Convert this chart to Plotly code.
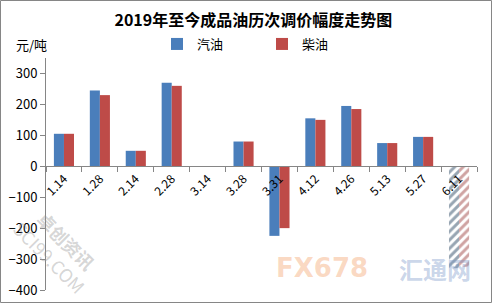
import plotly.graph_objects as go

categories = ["1.14", "1.28", "2.14", "2.28", "3.14", "3.28", "3.31", "4.12", "4.26", "5.13", "5.27", "6.11"]
gasoline = [105, 245, 50, 270, 0, 80, -225, 155, 195, 75, 95, None]
diesel = [105, 230, 50, 260, 0, 80, -200, 150, 185, 75, 95, None]
forecast_gasoline = [None] * 11 + [-330]
forecast_diesel = [None] * 11 + [-325]

BLUE = "#4A7EBB"
RED = "#BE4B48"
FONT = "Noto Sans CJK SC"

fig = go.Figure()
fig.add_trace(go.Bar(x=categories, y=gasoline, name="汽油", offsetgroup="0",
                     marker=dict(color=BLUE, line=dict(width=0))))
fig.add_trace(go.Bar(x=categories, y=diesel, name="柴油", offsetgroup="1",
                     marker=dict(color=RED, line=dict(width=0))))
fig.add_trace(go.Bar(x=categories, y=forecast_gasoline, showlegend=False, offsetgroup="0",
                     marker=dict(color="white", line=dict(width=0),
                                 pattern=dict(shape="/", fgcolor="#2F4B66", bgcolor="white", size=6, solidity=0.5))))
fig.add_trace(go.Bar(x=categories, y=forecast_diesel, showlegend=False, offsetgroup="1",
                     marker=dict(color="white", line=dict(width=0),
                                 pattern=dict(shape="/", fgcolor="#A04846", bgcolor="white", size=6, solidity=0.5))))

W, H = 492, 303
L, R, T, B = 46, 15, 58, 13
pw, ph = W - L - R, H - T - B

def px_x(p):
    return (p - L) / pw

def px_y(p):
    return (H - B - p) / ph

fig.update_layout(
    width=W, height=H,
    margin=dict(l=L, r=R, t=T, b=B, autoexpand=False),
    paper_bgcolor="white", plot_bgcolor="white",
    barmode="group", bargap=0.44, bargroupgap=0,
    font=dict(family=FONT, size=12, color="#000"),
    title=dict(text="<b>2019年至今成品油历次调价幅度走势图</b>", x=0.515, xanchor="center",
               y=1 - 20 / H, yanchor="middle", font=dict(size=16, family=FONT, color="#000")),
    legend=dict(orientation="h", xref="container", yref="container", x=157 / W, xanchor="left",
                y=1 - 44 / H, yanchor="middle",
                font=dict(size=13), itemwidth=30, entrywidth=60, bgcolor="rgba(0,0,0,0)",
                traceorder="normal"),
    showlegend=True,
)
fig.update_xaxes(
    type="category", anchor="free", position=400 / 750,
    showline=True, linecolor="#868686", linewidth=1,
    ticks="outside", tickson="boundaries", ticklen=5, tickcolor="#868686",
    tickangle=-45, tickfont=dict(size=12, family=FONT, color="#000"),
    showgrid=False, zeroline=False, automargin=False,
)
fig.update_yaxes(
    range=[-400, 350], tickvals=[-400, -300, -200, -100, 0, 100, 200, 300],
    showline=True, linecolor="#868686", linewidth=1,
    ticks="outside", ticklen=5, tickcolor="#868686",
    tickfont=dict(size=13, family=FONT, color="#000"),
    showgrid=False, zeroline=False, automargin=False,
)

# y-axis unit label
fig.add_annotation(text="元/吨", xref="paper", yref="paper", x=px_x(14), y=px_y(44),
                   xanchor="left", yanchor="middle", showarrow=False, font=dict(size=13, color="#000"))

# watermarks
fig.add_annotation(text="<b>FX678</b>", xref="paper", yref="paper", x=px_x(322), y=px_y(268),
                   xanchor="center", yanchor="middle", showarrow=False,
                   font=dict(size=26, color="rgba(245,170,120,0.45)", family="DejaVu Sans"))
fig.add_annotation(text="<b>汇通网</b>", xref="paper", yref="paper", x=px_x(435), y=px_y(268),
                   xanchor="center", yanchor="middle", showarrow=False,
                   font=dict(size=24, color="rgba(120,150,200,0.4)"))
fig.add_annotation(text="<b>卓创资讯</b><br>SCI99.COM", xref="paper", yref="paper", x=px_x(58), y=px_y(248),
                   xanchor="center", yanchor="middle", showarrow=False, textangle=45,
                   font=dict(size=18, color="rgba(150,150,150,0.4)"))

# outer border
fig.add_shape(type="rect", xref="paper", yref="paper",
              x0=px_x(0.5), x1=px_x(W - 0.5), y0=px_y(H - 0.5), y1=px_y(0.5),
              line=dict(color="#868686", width=1), fillcolor="rgba(0,0,0,0)", layer="above")

fig.write_html("out.html")
